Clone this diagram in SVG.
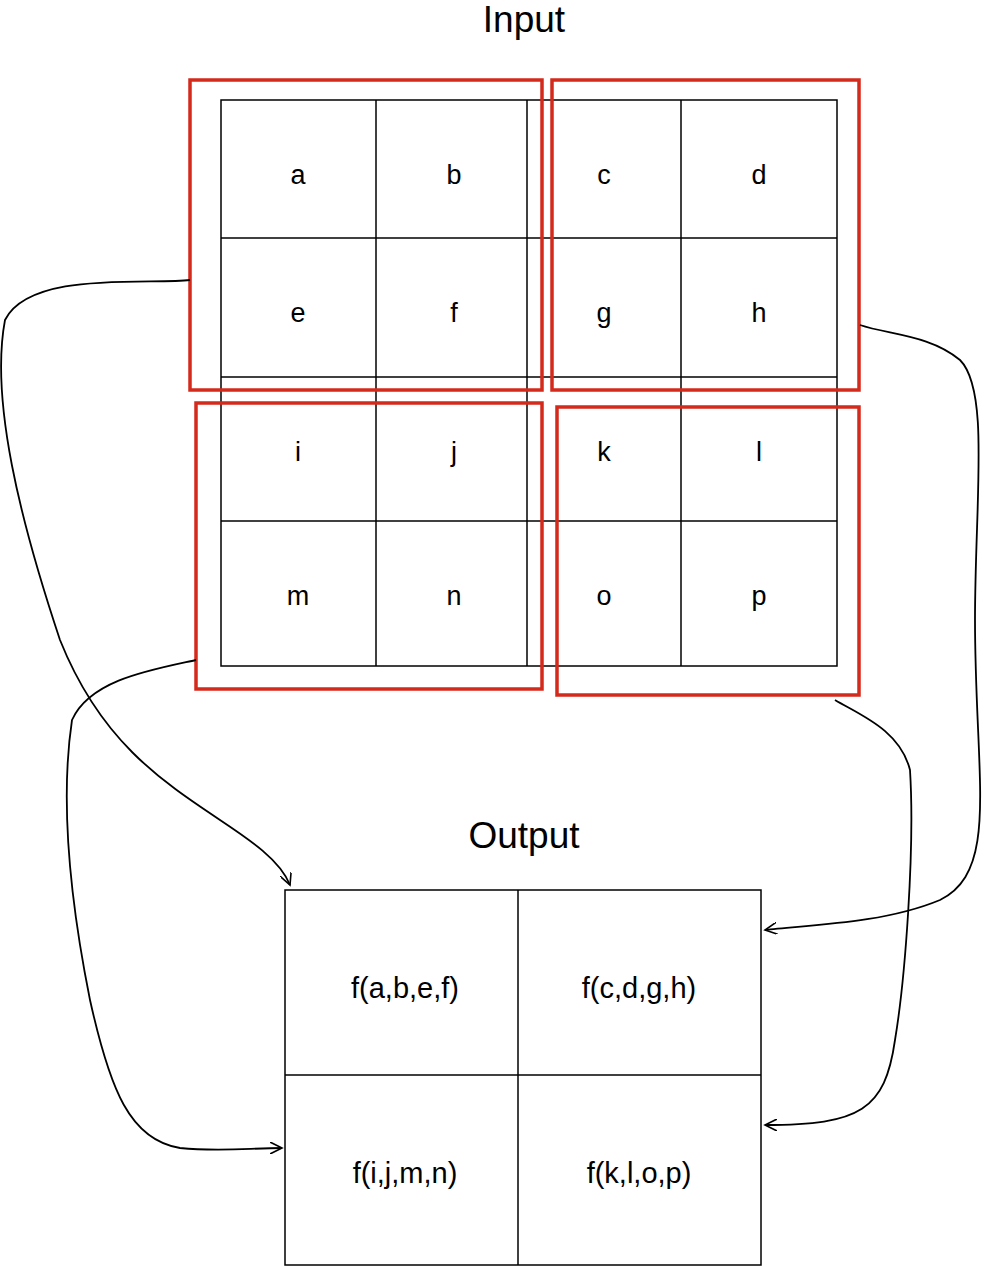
<svg xmlns="http://www.w3.org/2000/svg" width="1004" height="1267" viewBox="0 0 1004 1267">
<style>
.g{fill:#fff;stroke:#000;stroke-width:1.5}
.l{stroke:#000;stroke-width:1.5}
.r{fill:none;stroke:#d42a1c;stroke-width:3.5}
.t{font-family:"Liberation Sans",Arial,sans-serif;font-size:27px;text-anchor:middle;fill:#000}
.o{font-family:"Liberation Sans",Arial,sans-serif;font-size:29px;text-anchor:middle;fill:#000}
.h{font-family:"Liberation Sans",Arial,sans-serif;font-size:37px;text-anchor:middle;fill:#000}
.c{fill:none;stroke:#000;stroke-width:1.8}
</style>
<defs><marker id="a" markerWidth="14" markerHeight="12" refX="12" refY="6" orient="auto" markerUnits="userSpaceOnUse"><path d="M0,0 L12,6 L0,12" fill="none" stroke="#000" stroke-width="1.6"/></marker></defs>
<text class="h" x="524" y="32">Input</text>
<g id="input">
<rect class="g" x="221" y="100" width="616" height="566"/>
<line class="l" x1="376" y1="100" x2="376" y2="666"/>
<line class="l" x1="527" y1="100" x2="527" y2="666"/>
<line class="l" x1="681" y1="100" x2="681" y2="666"/>
<line class="l" x1="221" y1="238" x2="837" y2="238"/>
<line class="l" x1="221" y1="377" x2="837" y2="377"/>
<line class="l" x1="221" y1="521" x2="837" y2="521"/>
<text class="t" x="298" y="184">a</text><text class="t" x="454" y="184">b</text><text class="t" x="604" y="184">c</text><text class="t" x="759" y="184">d</text>
<text class="t" x="298" y="322">e</text><text class="t" x="454" y="322">f</text><text class="t" x="604" y="322">g</text><text class="t" x="759" y="322">h</text>
<text class="t" x="298" y="461">i</text><text class="t" x="454" y="461">j</text><text class="t" x="604" y="461">k</text><text class="t" x="759" y="461">l</text>
<text class="t" x="298" y="605">m</text><text class="t" x="454" y="605">n</text><text class="t" x="604" y="605">o</text><text class="t" x="759" y="605">p</text>
</g>
<g id="windows">
<rect class="r" x="190" y="80" width="352" height="310"/>
<rect class="r" x="552" y="80" width="307" height="310"/>
<rect class="r" x="196" y="403" width="346" height="286"/>
<rect class="r" x="557" y="407" width="302" height="288"/>
</g>
<text class="h" x="524" y="848">Output</text>
<g id="output">
<rect class="g" x="285" y="890" width="476" height="375"/>
<line class="l" x1="518" y1="890" x2="518" y2="1265"/>
<line class="l" x1="285" y1="1075" x2="761" y2="1075"/>
<text class="o" x="405" y="998">f(a,b,e,f)</text>
<text class="o" x="639" y="998">f(c,d,g,h)</text>
<text class="o" x="405" y="1183">f(i,j,m,n)</text>
<text class="o" x="639" y="1183">f(k,l,o,p)</text>
</g>
<g id="connectors">
<path class="c" marker-end="url(#a)" d="M190,280 C150,285 30,270 5,320 C-10,400 20,520 60,640 C100,740 160,780 220,820 C250,840 280,860 290,885"/>
<path class="c" marker-end="url(#a)" d="M860,325 C890,335 930,335 960,360 C990,390 975,500 975,620 C975,780 1000,870 940,900 C880,925 800,925 765,930"/>
<path class="c" marker-end="url(#a)" d="M196,660 C150,670 90,680 72,720 C60,800 70,900 90,1000 C110,1090 130,1140 180,1148 C220,1152 250,1148 282,1148"/>
<path class="c" marker-end="url(#a)" d="M835,700 C860,715 900,730 910,770 C915,850 905,980 895,1040 C885,1110 860,1125 765,1125"/>
</g>
</svg>
